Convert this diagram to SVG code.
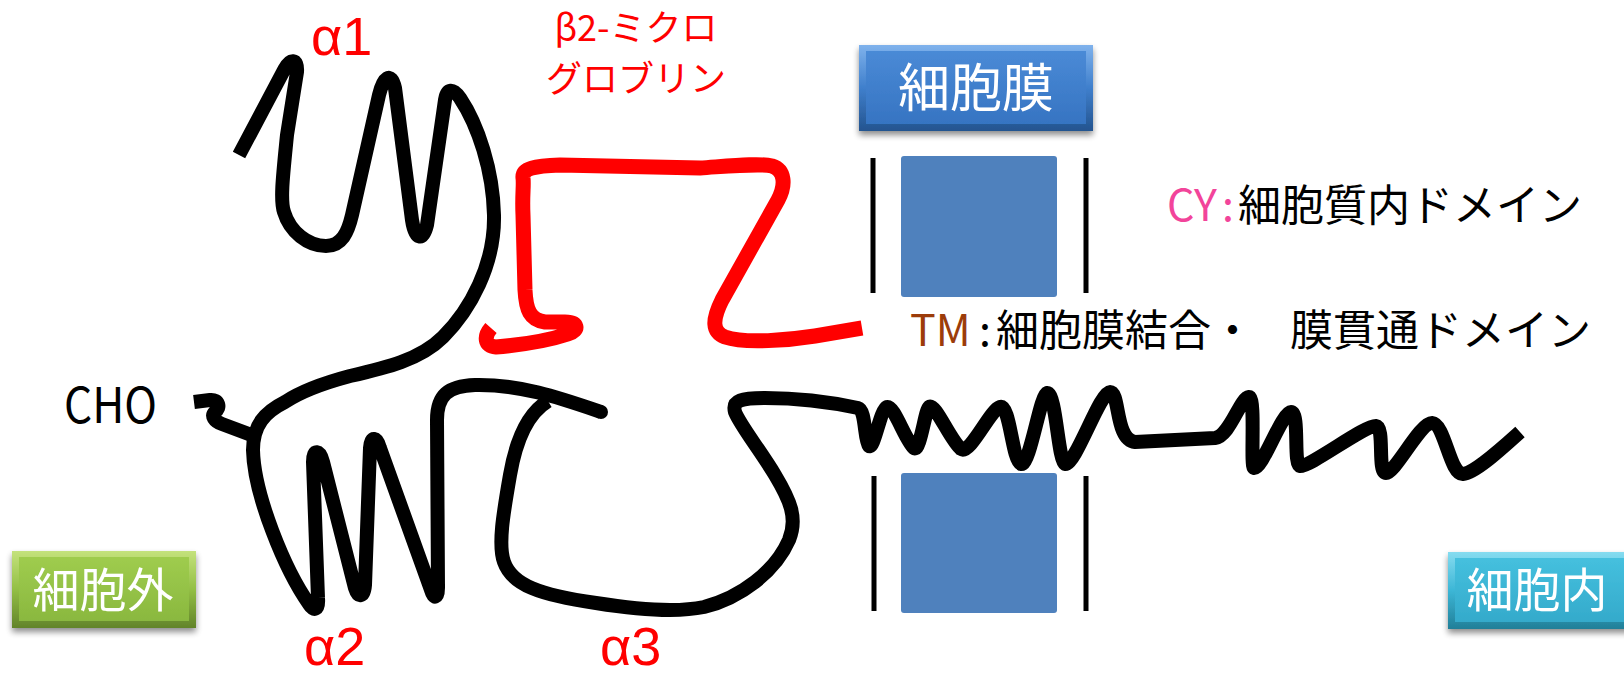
<svg xmlns="http://www.w3.org/2000/svg" width="1624" height="678" viewBox="0 0 1624 678">
  <style>
    text{font-family:"Noto Sans CJK JP","Noto Sans",sans-serif}
    .chain{fill:none;stroke:#000;stroke-width:14;stroke-linejoin:round;stroke-linecap:butt}
    .beta{fill:none;stroke:#f00;stroke-width:15;stroke-linejoin:round;stroke-linecap:butt}
    .mem{stroke:#000;stroke-width:5}
    .tm{fill:#4f81bd}
    .red{fill:#f00}
    .greek{font-family:"Liberation Sans","Noto Sans",sans-serif}
    .boxlabel{fill:#fff;text-anchor:middle}
  </style>
  <defs>
    <filter id="shadow" x="-10%" y="-20%" width="120%" height="160%">
      <feGaussianBlur in="SourceAlpha" stdDeviation="3"/>
      <feOffset dy="4" result="b"/>
      <feComponentTransfer><feFuncA type="linear" slope="0.45"/></feComponentTransfer>
      <feMerge><feMergeNode/><feMergeNode in="SourceGraphic"/></feMerge>
    </filter>
    <linearGradient id="blueEdge" x1="0" y1="0" x2="0" y2="1">
      <stop offset="0" stop-color="#7fb2ec"/><stop offset="0.5" stop-color="#3f7fcc"/><stop offset="1" stop-color="#24548f"/>
    </linearGradient>
    <linearGradient id="blueFace" x1="0" y1="0" x2="0" y2="1">
      <stop offset="0" stop-color="#4a8ad6"/><stop offset="1" stop-color="#3674c2"/>
    </linearGradient>
    <linearGradient id="greenEdge" x1="0" y1="0" x2="0" y2="1">
      <stop offset="0" stop-color="#c4e27c"/><stop offset="0.5" stop-color="#93bf45"/><stop offset="1" stop-color="#62842a"/>
    </linearGradient>
    <linearGradient id="greenFace" x1="0" y1="0" x2="0" y2="1">
      <stop offset="0" stop-color="#9fcc4e"/><stop offset="1" stop-color="#8ab83f"/>
    </linearGradient>
    <linearGradient id="cyanEdge" x1="0" y1="0" x2="0" y2="1">
      <stop offset="0" stop-color="#86dcf0"/><stop offset="0.5" stop-color="#3cb6d6"/><stop offset="1" stop-color="#217f98"/>
    </linearGradient>
    <linearGradient id="cyanFace" x1="0" y1="0" x2="0" y2="1">
      <stop offset="0" stop-color="#45c0de"/><stop offset="1" stop-color="#34aacb"/>
    </linearGradient>
  </defs>

  <!-- label boxes -->
  <g id="box-membrane" filter="url(#shadow)">
    <rect x="859" y="45" width="234" height="86" fill="url(#blueEdge)"/>
    <rect x="866" y="51" width="220" height="73" fill="url(#blueFace)"/>
    <text class="boxlabel" x="976" y="107" font-size="52">細胞膜</text>
  </g>
  <g id="box-outside" filter="url(#shadow)">
    <rect x="12" y="551" width="184" height="77" fill="url(#greenEdge)"/>
    <rect x="19" y="557" width="170" height="64" fill="url(#greenFace)"/>
    <text class="boxlabel" x="103" y="607" font-size="47">細胞外</text>
  </g>
  <g id="box-inside" filter="url(#shadow)">
    <rect x="1448" y="552" width="184" height="77" fill="url(#cyanEdge)"/>
    <rect x="1455" y="558" width="170" height="64" fill="url(#cyanFace)"/>
    <text class="boxlabel" x="1537" y="607" font-size="47">細胞内</text>
  </g>

  <!-- membrane bilayer: upper and lower sections -->
  <g id="membrane-upper">
    <line class="mem" x1="873" y1="158" x2="873" y2="293"/>
    <rect class="tm" x="901" y="156" width="156" height="141" rx="3"/>
    <line class="mem" x1="1086" y1="158" x2="1086" y2="293"/>
  </g>
  <g id="membrane-lower">
    <line class="mem" x1="874" y1="476" x2="874" y2="611"/>
    <rect class="tm" x="901" y="473" width="156" height="140" rx="3"/>
    <line class="mem" x1="1086" y1="476" x2="1086" y2="611"/>
  </g>

  <!-- polypeptide chains -->
  <g id="chains">
    <!-- heavy chain: α1, α2 -->
    <path id="heavy-a1a2" class="chain" d="M239,155 L284,70 C290,58 298,58 297,72 L287,135 C283,175 280,200 284,212 C290,232 308,246 326,246 C342,246 348,232 352,215 L379,95 C383,78 391,70 395,88 L412,220 C415,240 423,242 427,225 L445,100 C447,88 453,88 460,98 C478,125 493,170 494,215 C495,265 470,310 443,337 C420,360 385,368 350,376 C320,384 300,392 285,402 C265,412 253,425 253,450 C254,495 285,570 309,604 C314,612 319,610 318,598 L313,462 C313,448 320,450 323,462 L355,588 C358,598 364,598 365,585 L370,448 C371,435 377,437 380,448 L431,590 C434,600 438,598 438,588 L437,420 C437,395 448,386 475,385 C520,384 560,398 601,412"/>
    <circle cx="601" cy="412" r="7"/>
    <!-- sugar chain stub -->
    <path id="cho-stub" class="chain" d="M194,402 L210,400 C219,399 221,408 215,412 C211,416 214,421 222,424 L254,436"/>
    <!-- heavy chain: α3, transmembrane and cytoplasmic tail -->
    <path id="heavy-a3-tail" class="chain" d="M548,401 C528,413 516,440 510,475 C503,515 498,545 504,562 C512,585 540,595 596,603 C640,610 680,612 704,607 C740,598 775,572 789,540 C798,518 790,500 775,475 C760,450 740,425 735,412 C732,400 742,398 765,398 C800,398 830,402 858,408 C866,410 864,440 869,446 C874,450 880,410 887,407 C894,405 905,440 914,448 C920,453 925,410 929,407 C935,402 950,440 961,449 C970,455 990,410 1000,407 C1010,404 1012,460 1021,464 C1030,466 1040,395 1047,393 C1056,392 1058,460 1065,464 C1075,466 1100,392 1110,392 C1120,392 1115,440 1135,442 L1215,438 C1230,436 1240,398 1249,397 C1256,397 1250,467 1254,468 C1262,470 1282,412 1291,412 C1300,412 1293,465 1300,466 C1310,467 1365,425 1376,426 C1385,427 1377,473 1386,473 C1395,473 1420,423 1432,423 C1445,424 1450,475 1463,474 C1475,473 1500,450 1520,432"/>
    <!-- β2-microglobulin -->
    <path id="beta2m" class="beta" d="M491,328 C484,336 484,346 496,347 C520,345 550,340 568,334 C580,330 578,322 565,322 L545,322 C530,320 526,310 525,290 L523,215 C522,195 524,185 523,178 C522,168 535,166 560,165 L700,168 C730,166 760,163 772,166 C785,170 786,185 778,200 L722,300 C712,320 712,332 725,337 C745,344 790,340 815,336 L862,328"/>
  </g>

  <!-- domain labels -->
  <g id="labels">
    <text class="red greek" x="311" y="55" font-size="54">α1</text>
    <text class="red greek" x="304" y="665" font-size="54">α2</text>
    <text class="red greek" x="600" y="665" font-size="54">α3</text>
    <text class="red" x="636" y="41" font-size="36" text-anchor="middle">β2-ミクロ</text>
    <text class="red" x="636" y="92" font-size="36" text-anchor="middle">グロブリン</text>
    <text x="64" y="423" font-size="49" textLength="93" lengthAdjust="spacingAndGlyphs">CHO</text>
  </g>
  <g id="legend">
    <text y="221" font-size="43"><tspan x="1167" fill="#f2449a">CY</tspan><tspan x="1222" fill="#f2449a">:</tspan><tspan x="1238">細胞質内ドメイン</tspan></text>
    <text y="346" font-size="43"><tspan x="910" fill="#9c3c0a">TM</tspan><tspan x="979">:</tspan><tspan x="996">細胞膜結合・ </tspan><tspan x="1290">膜貫通ドメイン</tspan></text>
  </g>
</svg>
